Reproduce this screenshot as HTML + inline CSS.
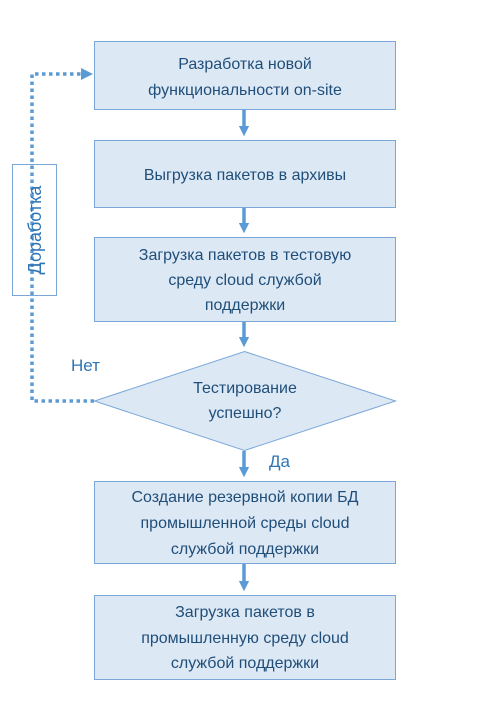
<!DOCTYPE html><html><head><style>body{margin:0;background:#fff}</style></head><body>
<svg width="482" height="720" xmlns="http://www.w3.org/2000/svg" font-family="Liberation Sans, sans-serif">
<defs><marker id="a" markerWidth="3" markerHeight="3" refX="1.5" refY="1.5" orient="auto" markerUnits="strokeWidth"><path d="M0,0 L3,1.5 L0,3z" fill="#5b9bd5"/></marker></defs>
<g fill="#dde8f5" stroke="#7ba7d8" stroke-width="1">
<rect x="94.5" y="41.5" width="301" height="68"/>
<rect x="94.5" y="140.5" width="301" height="67"/>
<rect x="94.5" y="237.5" width="301" height="84"/>
<polygon points="244.5,351.5 395.5,401 244.5,450.5 94.5,401"/>
<rect x="94.5" y="481.5" width="301" height="82"/>
<rect x="94.5" y="595.5" width="301" height="84"/>
</g>
<rect x="12.5" y="164.5" width="44" height="131" fill="#fff" stroke="#7ba7d8"/>
<g stroke="#5b9bd5" stroke-width="3.5" fill="none">
<line x1="244" y1="110" x2="244" y2="131" marker-end="url(#a)"/>
<line x1="244" y1="208" x2="244" y2="228" marker-end="url(#a)"/>
<line x1="244" y1="322" x2="244" y2="342" marker-end="url(#a)"/>
<line x1="244" y1="451" x2="244" y2="472" marker-end="url(#a)"/>
<line x1="244" y1="564" x2="244" y2="586" marker-end="url(#a)"/>
</g>
<g stroke="#5b9bd5" stroke-width="3.5" fill="none" stroke-dasharray="3.5,3.5">
<path d="M94,401 H32 V74 H82"/>
</g>
<path d="M81,68 L93,74 L81,80z" fill="#5b9bd5"/>
<g fill="#1f4e79" font-size="16" text-anchor="middle">
<text x="245" y="69">Разработка новой</text>
<text x="245" y="95">функциональности on-site</text>
<text x="245" y="180">Выгрузка пакетов в архивы</text>
<text x="245" y="260">Загрузка пакетов в тестовую</text>
<text x="245" y="285">среду cloud службой</text>
<text x="245" y="310">поддержки</text>
<text x="245" y="393">Тестирование</text>
<text x="245" y="418">успешно?</text>
<text x="245" y="502">Создание резервной копии БД</text>
<text x="245" y="528">промышленной среды cloud</text>
<text x="245" y="554">службой поддержки</text>
<text x="245" y="617">Загрузка пакетов в</text>
<text x="245" y="643">промышленную среду cloud</text>
<text x="245" y="668">службой поддержки</text>
</g>
<g fill="#2e75b6" font-size="17">
<text x="71" y="371">Нет</text>
<text x="269" y="467">Да</text>
<text x="0" y="0" transform="translate(41,230) rotate(-90)" text-anchor="middle" fill="#2e75b6" font-size="18">Доработка</text>
</g>
</svg></body></html>
